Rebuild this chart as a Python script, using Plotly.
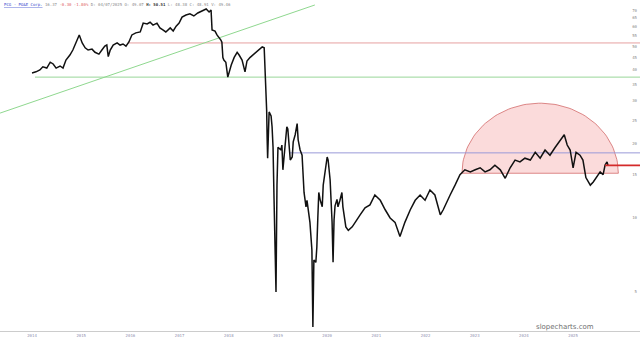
import numpy as np
import plotly.graph_objects as go

# ---- data ----
t_year = [2014.00, 2014.08, 2014.16, 2014.22, 2014.30, 2014.37, 2014.43, 2014.49, 2014.57, 2014.63,
          2014.69, 2014.77, 2014.83, 2014.89, 2014.96, 2015.02, 2015.08, 2015.14, 2015.22, 2015.28,
          2015.36, 2015.42, 2015.48, 2015.52, 2015.55, 2015.59, 2015.65, 2015.73, 2015.79, 2015.85,
          2015.91, 2015.97, 2016.03, 2016.11, 2016.20, 2016.26, 2016.34, 2016.40, 2016.46, 2016.54,
          2016.60, 2016.66, 2016.72, 2016.81, 2016.87, 2016.93, 2016.99, 2017.05, 2017.13, 2017.21,
          2017.29, 2017.37, 2017.46, 2017.54, 2017.60, 2017.64, 2017.66, 2017.72, 2017.76, 2017.80,
          2017.84, 2017.86, 2017.88, 2017.90, 2017.94, 2017.98, 2018.05, 2018.11, 2018.17, 2018.21,
          2018.27, 2018.33, 2018.37, 2018.43, 2018.49, 2018.55, 2018.61, 2018.68, 2018.72, 2018.74,
          2018.76, 2018.77, 2018.78, 2018.79, 2018.82, 2018.86, 2018.88, 2018.90, 2018.92, 2018.94,
          2018.96, 2018.98, 2019.00, 2019.06, 2019.08, 2019.10, 2019.14, 2019.18, 2019.20, 2019.25,
          2019.29, 2019.31, 2019.35, 2019.39, 2019.41, 2019.45, 2019.49, 2019.51, 2019.53, 2019.57,
          2019.59, 2019.65, 2019.67, 2019.69, 2019.71, 2019.73, 2019.77, 2019.79, 2019.81, 2019.83,
          2019.86, 2019.90, 2019.92, 2019.96, 2020.00, 2020.02, 2020.06, 2020.10, 2020.12, 2020.14,
          2020.16, 2020.20, 2020.22, 2020.26, 2020.30, 2020.32, 2020.38, 2020.43, 2020.51, 2020.57,
          2020.63, 2020.67, 2020.77, 2020.87, 2020.97, 2021.08, 2021.18, 2021.28, 2021.38, 2021.48,
          2021.58, 2021.69, 2021.79, 2021.89, 2021.99, 2022.09, 2022.19, 2022.30, 2022.36, 2022.44,
          2022.50, 2022.60, 2022.70, 2022.80, 2022.91, 2023.01, 2023.11, 2023.21, 2023.31, 2023.41,
          2023.52, 2023.62, 2023.72, 2023.82, 2023.92, 2024.02, 2024.13, 2024.23, 2024.33, 2024.43,
          2024.53, 2024.63, 2024.74, 2024.82, 2024.88, 2024.94, 2025.00, 2025.06, 2025.14, 2025.20,
          2025.26, 2025.35, 2025.41, 2025.47, 2025.55, 2025.61, 2025.65, 2025.69, 2025.71]
price = [38.9, 39.3, 40.0, 41.2, 40.7, 43.0, 42.3, 40.7, 41.5, 40.7,
         43.9, 46.0, 48.2, 51.5, 55.5, 51.5, 49.2, 48.2, 48.6, 47.2,
         46.4, 48.2, 50.0, 50.5, 45.3, 48.2, 50.5, 51.5, 50.5, 51.0,
         50.0, 52.0, 55.5, 56.6, 57.1, 62.0, 61.5, 62.5, 60.9, 62.0,
         59.3, 58.2, 57.1, 59.3, 57.6, 60.3, 62.0, 65.6, 66.9, 67.6,
         66.3, 68.2, 69.4, 70.8, 68.8, 70.1, 58.2, 57.5, 55.5, 54.4,
         52.9, 51.9, 44.9, 43.9, 43.0, 37.4, 41.9, 45.0, 47.2, 46.0,
         43.9, 39.3, 43.5, 44.9, 46.0, 47.2, 48.2, 49.6, 49.2, 40.0,
         35.0, 27.5, 21.0, 17.5, 27.0, 26.0, 23.5, 19.4, 12.0, 8.1,
         5.0, 13.6, 19.4, 18.9, 19.8, 15.7, 19.4, 23.5, 23.0, 17.2,
         17.7, 20.4, 21.8, 24.2, 20.8, 18.9, 18.0, 14.3, 12.7, 11.1,
         11.8, 9.6, 8.1, 7.4, 3.6, 6.75, 6.6, 7.6, 10.0, 12.7,
         11.8, 11.1, 13.6, 15.7, 17.7, 17.2, 14.3, 9.6, 6.6, 9.8,
         11.2, 11.9, 11.1, 11.8, 12.7, 11.1, 9.2, 8.9, 9.2, 9.6,
         10.1, 10.3, 11.0, 11.3, 12.4, 11.8, 10.8, 10.0, 9.6, 8.4,
         9.6, 10.8, 11.8, 12.4, 11.8, 13.0, 12.4, 10.3, 10.8, 11.8,
         12.4, 13.6, 15.0, 15.7, 15.4, 15.7, 16.0, 15.4, 15.7, 16.4,
         15.7, 14.5, 16.0, 17.2, 16.9, 17.5, 17.2, 18.5, 17.5, 18.9,
         18.0, 19.3, 20.8, 21.8, 19.8, 18.9, 16.0, 18.5, 18.0, 17.2,
         14.6, 13.6, 14.0, 14.6, 15.4, 15.0, 16.4, 16.9, 16.37]

year_ticks = list(range(2014, 2026))
year_labels = [str(y) for y in year_ticks]
price_ticks = [5, 10, 15, 20, 25, 30, 35, 40, 45, 50, 55, 60, 65, 70]

last_price = 16.37
# drawn levels
red_level = 51.5
green_level = 37.4
blue_level = 18.4
# diagonal trendline anchor points (year, price)
trend_t = [2013.35, 2019.75]
trend_p = [26.7, 73.5]
# dome (arc) annotation: centre, half-width (years), height (log10 units)
dome_t, dome_p, dome_rx, dome_ry = 2024.33, 15.2, 1.59, 0.285

X0, X1 = 2013.349, 2026.36
Y0, Y1 = 3.47, 77.0

fig = go.Figure()

# dome
th = np.linspace(0, np.pi, 80)
dx = dome_t + dome_rx * np.cos(th)
dy = 10 ** (np.log10(dome_p) + dome_ry * np.sin(th))
fig.add_trace(go.Scatter(x=list(dx) + [dx[0]], y=list(dy) + [dy[0]], mode="lines",
                         fill="toself", fillcolor="rgba(245,165,165,0.40)",
                         line=dict(color="rgba(205,90,90,0.7)", width=1), hoverinfo="skip"))

def hline(t0, v, color, width=1):
    fig.add_trace(go.Scatter(x=[t0, X1], y=[v, v], mode="lines",
                             line=dict(color=color, width=width), hoverinfo="skip"))

hline(2015.95, red_level, "#e6a0a0")
hline(2014.06, green_level, "#99d699")
hline(2019.23, blue_level, "#9a9ad8")
fig.add_trace(go.Scatter(x=trend_t, y=trend_p, mode="lines",
                         line=dict(color="#8fd88f", width=1), hoverinfo="skip"))

fig.add_trace(go.Scatter(x=t_year, y=price, mode="lines",
                         line=dict(color="#111111", width=1.5)))

hline(2025.65, last_price, "#d42a2a", 1.6)

fig.update_layout(
    width=640, height=343, margin=dict(l=0, r=0, t=0, b=12),
    paper_bgcolor="white", plot_bgcolor="white", showlegend=False,
    font=dict(family="DejaVu Sans Mono", size=5, color="#8a8a9a"),
    xaxis=dict(range=[X0, X1], tickvals=year_ticks, ticktext=year_labels,
               showgrid=False, zeroline=False, showline=True, linecolor="#cccccc",
               linewidth=1, ticks="", tickfont=dict(size=4, color="#9090b0")),
    yaxis=dict(type="log", range=[np.log10(Y0), np.log10(Y1)], side="right",
               ticklabelposition="inside", tickvals=price_ticks,
               ticktext=[str(v) for v in price_ticks], showgrid=False, zeroline=False,
               ticks="", tickfont=dict(size=4, color="#8a8a8a")),
)

fig.add_annotation(xref="paper", yref="paper", x=0.003, y=0.999, xanchor="left", yanchor="top",
                   showarrow=False, align="left",
                   text=("<span style='color:#3344cc'><u>PCG - PG&amp;E Corp.</u></span> "
                         "<span style='color:#888'>16.37</span> "
                         "<span style='color:#e06060'>-0.30 -1.80%</span> "
                         "<span style='color:#888'>D: 04/07/2025 O: 49.07 </span>"
                         "<b style='color:#333'>H: 50.51</b>"
                         "<span style='color:#888'> L: 48.38 C: 48.91 V: 49.46</span>"),
                   font=dict(size=4, family="DejaVu Sans Mono"))

fig.add_annotation(xref="paper", yref="paper", x=0.883, y=0.012, xanchor="center",
                   yanchor="middle", showarrow=False, text="slopecharts.com",
                   font=dict(size=7, color="#707070", family="DejaVu Sans"))

fig.write_html("out.html")
